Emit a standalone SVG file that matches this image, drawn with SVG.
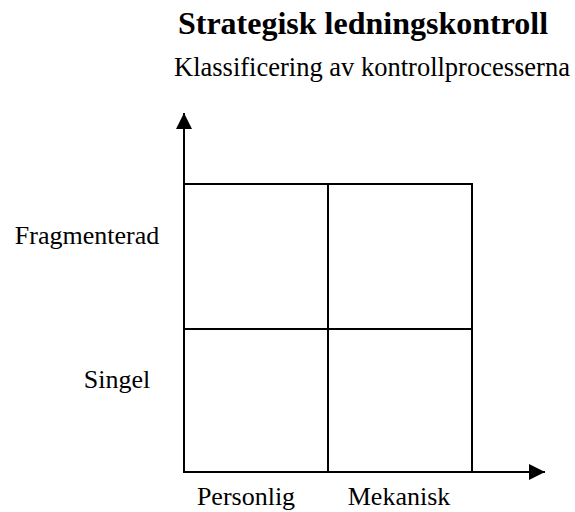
<svg xmlns="http://www.w3.org/2000/svg" width="575" height="512" viewBox="0 0 575 512">
<style>
text{font-family:"Liberation Serif","Times New Roman",serif;fill:#000}
.t{font-size:32px;font-weight:bold}
.s{font-size:26.5px}
.l{font-size:26px}
.ln{stroke:#000;stroke-width:2;fill:none}
</style>
<defs>
<marker id="ah" viewBox="0 0 10 10" refX="10" refY="5" markerWidth="16" markerHeight="16" markerUnits="userSpaceOnUse" orient="auto">
<path d="M0,0 L10,5 L0,10 Z" fill="#000"/>
</marker>
</defs>
<text class="t" x="363" y="34" text-anchor="middle">Strategisk ledningskontroll</text>
<text class="s" x="372" y="76" text-anchor="middle">Klassificering av kontrollprocesserna</text>
<g id="connectors">
<line class="ln" x1="184" y1="472" x2="184" y2="113" marker-end="url(#ah)"/>
<line class="ln" x1="184" y1="472" x2="545" y2="472" marker-end="url(#ah)"/>
</g>
<g id="q-top-left"><rect class="ln" x="184" y="184" width="144" height="145"/></g>
<g id="q-top-right"><rect class="ln" x="328" y="184" width="144" height="145"/></g>
<g id="q-bottom-left"><rect class="ln" x="184" y="329" width="144" height="143"/></g>
<g id="q-bottom-right"><rect class="ln" x="328" y="329" width="144" height="143"/></g>
<g id="label-fragmenterad"><text class="l" x="87" y="244" text-anchor="middle">Fragmenterad</text></g>
<g id="label-singel"><text class="l" x="117" y="388" text-anchor="middle">Singel</text></g>
<g id="label-personlig"><text class="l" x="246" y="505" text-anchor="middle">Personlig</text></g>
<g id="label-mekanisk"><text class="l" x="399" y="505" text-anchor="middle">Mekanisk</text></g>
</svg>
